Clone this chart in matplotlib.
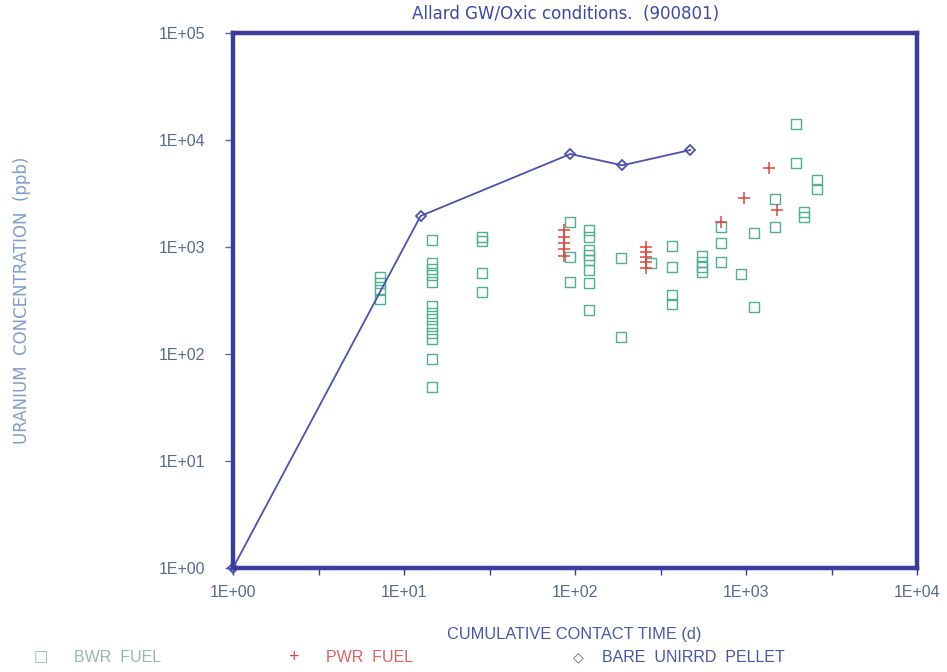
import numpy as np
import matplotlib
matplotlib.use("Agg")
import matplotlib.pyplot as plt
from matplotlib.ticker import FixedLocator, NullFormatter

# contact time (d) and uranium concentration (ppb)
bwr_t = [7.2, 7.2, 7.2, 7.2,
         14.5, 14.5, 14.5, 14.5, 14.5, 14.5, 14.5, 14.5, 14.5, 14.5, 14.5, 14.5, 14.5,
         28.4, 28.4, 28.4, 28.4,
         93, 93, 93,
         120, 120, 120, 120, 120, 120, 120, 120,
         186, 186, 279,
         370, 370, 370, 370,
         554, 554, 554, 554,
         716, 716, 716, 936,
         1120, 1120, 1485, 1485,
         1962, 1962, 2194, 2194, 2588, 2588]
bwr_u = [530, 460, 400, 330,
         1160, 713, 620, 545, 475, 281, 243, 211, 183, 158, 137, 89, 49,
         1250, 1140, 575, 382,
         1725, 811, 474,
         1440, 1250, 940, 840, 760, 610, 458, 258,
         794, 143, 704,
         1020, 646, 356, 293,
         824, 728, 654, 587,
         1550, 1097, 728, 560,
         1343, 277, 2790, 1550,
         14100, 6140, 2140, 1920, 4230, 3460]

pwr_t = [86, 86, 86, 86, 86, 261, 261, 261, 261, 261, 716, 970, 1370, 1520]
pwr_u = [1450, 1250, 1100, 950, 820, 1006, 904, 811, 729, 631, 1725, 2850, 5440, 2220]

pellet_t = [1, 12.5, 94, 189, 473]
pellet_u = [1, 1950, 7400, 5800, 8070]

xticks = [1, 10, 100, 1000, 10000]
yticks = [1, 10, 100, 1000, 10000, 100000]
tick_labels_x = ["1E+00", "1E+01", "1E+02", "1E+03", "1E+04"]
tick_labels_y = ["1E+00", "1E+01", "1E+02", "1E+03", "1E+04", "1E+05"]

frame_c = "#3c3c9e"
bwr_c = "#4fae96"
pwr_c = "#e2453f"
pellet_c = "#4b52b0"
tick_c = "#5a6890"

W, H = 947, 672
fig = plt.figure(figsize=(W / 100, H / 100), dpi=100)
ax = fig.add_axes([233 / W, 1 - 568 / H, (917 - 233) / W, (568 - 33) / H])

ax.plot(bwr_t, bwr_u, "s", ms=6.8, mfc="none", mec=bwr_c, mew=1.0, clip_on=False)
ax.plot(pwr_t, pwr_u, "+", ms=8, color=pwr_c, mew=1.1, clip_on=False)
ax.plot(pellet_t, pellet_u, "-D", ms=5.5, mfc="none", mec=pellet_c, mew=1.3,
        color=pellet_c, lw=1.3, clip_on=False)

ax.set_xscale("log")
ax.set_yscale("log")
ax.set_xlim(1, 1e4)
ax.set_ylim(1, 1e5)

ax.xaxis.set_major_locator(FixedLocator(xticks))
ax.set_xticklabels(tick_labels_x)
ax.xaxis.set_minor_locator(FixedLocator([10 ** (k + 0.5) for k in range(4)]))
ax.xaxis.set_minor_formatter(NullFormatter())
ax.yaxis.set_major_locator(FixedLocator(yticks))
ax.set_yticklabels(tick_labels_y)
ax.yaxis.set_minor_locator(FixedLocator([]))

ax.tick_params(axis="x", which="both", direction="out", length=5, width=1,
               color=frame_c, labelcolor=tick_c, labelsize=11.5, pad=7)
ax.tick_params(axis="y", which="both", direction="out", length=6, width=1,
               color=tick_c, labelcolor=tick_c, labelsize=11.5, pad=14)
for lab in ax.get_xticklabels() + ax.get_yticklabels():
    lab.set_fontfamily("Liberation Sans")

for sp in ax.spines.values():
    sp.set_linewidth(3.2)
    sp.set_color(frame_c)

fig.text(566 / W, 1 - 14 / H, "Allard GW/Oxic conditions.  (900801)",
         ha="center", va="center", fontsize=12, color="#3c48a8",
         family="DejaVu Sans")
fig.text(22 / W, 1 - 300 / H, "URANIUM  CONCENTRATION  (ppb)", rotation=90,
         ha="center", va="center", fontsize=12, color="#7f9ccc",
         family="DejaVu Sans")
fig.text(574 / W, 1 - 634 / H, "CUMULATIVE CONTACT TIME (d)",
         ha="center", va="center", fontsize=11.8, color="#4a58aa",
         family="Liberation Sans")

leg_y = 1 - 657 / H
fig.text(41 / W, leg_y, "\u25a1", ha="center", va="center", fontsize=11,
         color="#8cc0b0", family="DejaVu Sans")
fig.text(74 / W, leg_y, "BWR  FUEL", ha="left", va="center", fontsize=11.5,
         color="#9ab8aa", family="Liberation Sans")
fig.text(293 / W, leg_y, "+", ha="center", va="center", fontsize=13,
         color=pwr_c, family="Liberation Sans")
fig.text(326 / W, leg_y, "PWR  FUEL", ha="left", va="center", fontsize=11.5,
         color="#e06060", family="Liberation Sans")
fig.text(578 / W, leg_y, "\u25c7", ha="center", va="center", fontsize=10,
         color=pellet_c, family="DejaVu Sans")
fig.text(602 / W, leg_y, "BARE  UNIRRD  PELLET", ha="left", va="center",
         fontsize=11.5, color="#4a55a8", family="Liberation Sans")

fig.savefig("out.png", dpi=100)
